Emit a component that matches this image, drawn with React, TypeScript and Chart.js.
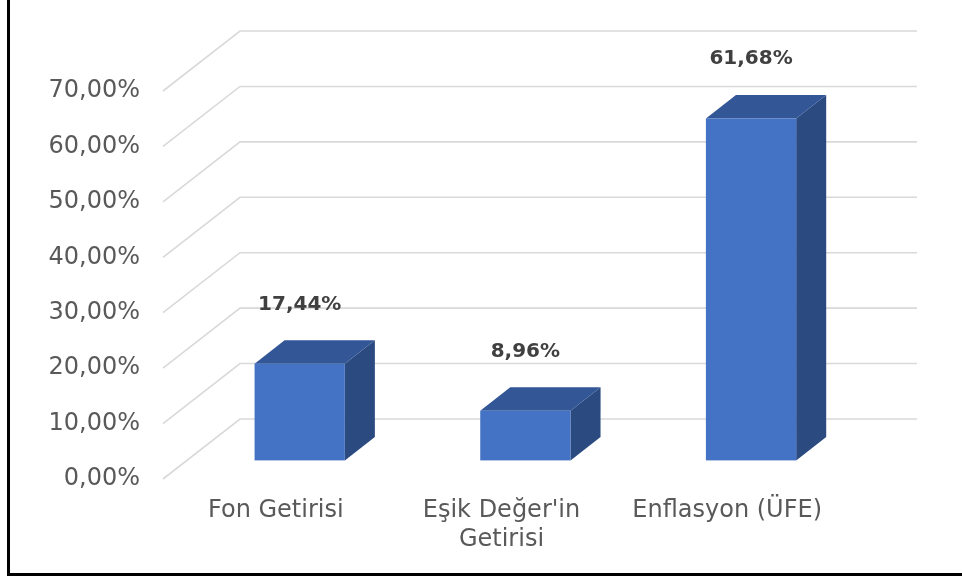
import React, { useEffect, useRef } from "react";
import { Chart, registerables } from "chart.js";

Chart.register(...registerables);

const categories: (string | string[])[] = ["Fon Getirisi", ["Eşik Değer'in", "Getirisi"], "Enflasyon (ÜFE)"];
const values: number[] = [17.44, 8.96, 61.68];
const yMin = 0;
const yMax = 70;
const yStep = 10;

const FONT = "'DejaVu Sans', Verdana, sans-serif";
const DX = 77;
const DY = -60;
const F1 = 0.31;
const F2 = 0.7;

const fmt = (v: number) => v.toFixed(2).replace(".", ",") + "%";

const threeD = {
  id: "threeD",
  beforeDatasetsDraw(chart: any) {
    const { ctx, chartArea, scales } = chart;
    const y = scales.y;
    ctx.save();
    ctx.strokeStyle = "#D9D9D9";
    ctx.lineWidth = 1.6;
    y.ticks.forEach((t: any) => {
      const py = y.getPixelForValue(t.value);
      ctx.beginPath();
      ctx.moveTo(chartArea.left, py);
      ctx.lineTo(chartArea.left + DX, py + DY);
      ctx.lineTo(chartArea.right + DX, py + DY);
      ctx.stroke();
    });
    ctx.restore();
  },
  afterDatasetsDraw(chart: any) {
    const { ctx } = chart;
    const meta = chart.getDatasetMeta(0);
    const ds = chart.data.datasets[0];
    ctx.save();
    meta.data.forEach((bar: any, i: number) => {
      const { x, y, base, width } = bar.getProps(["x", "y", "base", "width"], true);
      const l = x - width / 2 + F1 * DX;
      const r = x + width / 2 + F1 * DX;
      const t = y + F1 * DY;
      const b = base + F1 * DY;
      const ox = (F2 - F1) * DX;
      const oy = (F2 - F1) * DY;
      // side
      ctx.fillStyle = "#2A4A80";
      ctx.beginPath();
      ctx.moveTo(r, t);
      ctx.lineTo(r + ox, t + oy);
      ctx.lineTo(r + ox, b + oy);
      ctx.lineTo(r, b);
      ctx.closePath();
      ctx.fill();
      // top
      ctx.fillStyle = "#325696";
      ctx.beginPath();
      ctx.moveTo(l, t);
      ctx.lineTo(l + ox, t + oy);
      ctx.lineTo(r + ox, t + oy);
      ctx.lineTo(r, t);
      ctx.closePath();
      ctx.fill();
      // front
      ctx.fillStyle = "#4472C4";
      ctx.fillRect(l, t, r - l, b - t);
      // label
      ctx.fillStyle = "#404040";
      ctx.font = `bold 20px ${FONT}`;
      ctx.textAlign = "center";
      ctx.textBaseline = "middle";
      ctx.fillText(fmt(ds.data[i]), (l + r) / 2, t + oy - 36);
    });
    ctx.restore();
  },
};

export default function App() {
  const ref = useRef<HTMLCanvasElement | null>(null);
  useEffect(() => {
    if (!ref.current) return;
    const chart = new Chart(ref.current, {
      type: "bar",
      data: {
        labels: categories as any,
        datasets: [
          {
            data: values,
            backgroundColor: "rgba(0,0,0,0)",
            borderWidth: 0,
            categoryPercentage: 1,
            barPercentage: 0.4,
          },
        ],
      },
      options: {
        responsive: false,
        animation: false,
        layout: { padding: { left: 0, right: 122, top: 91, bottom: 0 } },
        plugins: { legend: { display: false }, tooltip: { enabled: false } },
        scales: {
          x: {
            grid: { display: false, drawTicks: false },
            border: { display: false },
            ticks: {
              color: "#595959",
              font: { family: FONT, size: 24, lineHeight: 1.22 },
              padding: 17,
              maxRotation: 0,
              autoSkip: false,
            },
            afterFit: (s: any) => {
              s.height = 578 - 479;
            },
          },
          y: {
            min: yMin,
            max: yMax,
            grid: { display: false, drawTicks: false },
            border: { display: false },
            ticks: {
              stepSize: yStep,
              color: "#595959",
              font: { family: FONT, size: 24 },
              padding: 23,
              callback: (v: any) => fmt(Number(v)),
            },
            afterFit: (s: any) => {
              s.width = 163;
            },
          },
        },
      },
      plugins: [threeD],
    });
    return () => chart.destroy();
  }, []);

  return (
    <div style={{ position: "fixed", left: 0, top: 0, width: 962, height: 578, overflow: "hidden", background: "#fff" }}>
      <canvas ref={ref} width={962} height={578} style={{ position: "absolute", left: 0, top: 0, width: 962, height: 578 }} />
      <div
        style={{
          position: "absolute",
          left: 7,
          top: -10,
          width: 1000,
          height: 583,
          borderLeft: "3px solid #000",
          borderBottom: "3px solid #000",
          pointerEvents: "none",
        }}
      />
    </div>
  );
}
